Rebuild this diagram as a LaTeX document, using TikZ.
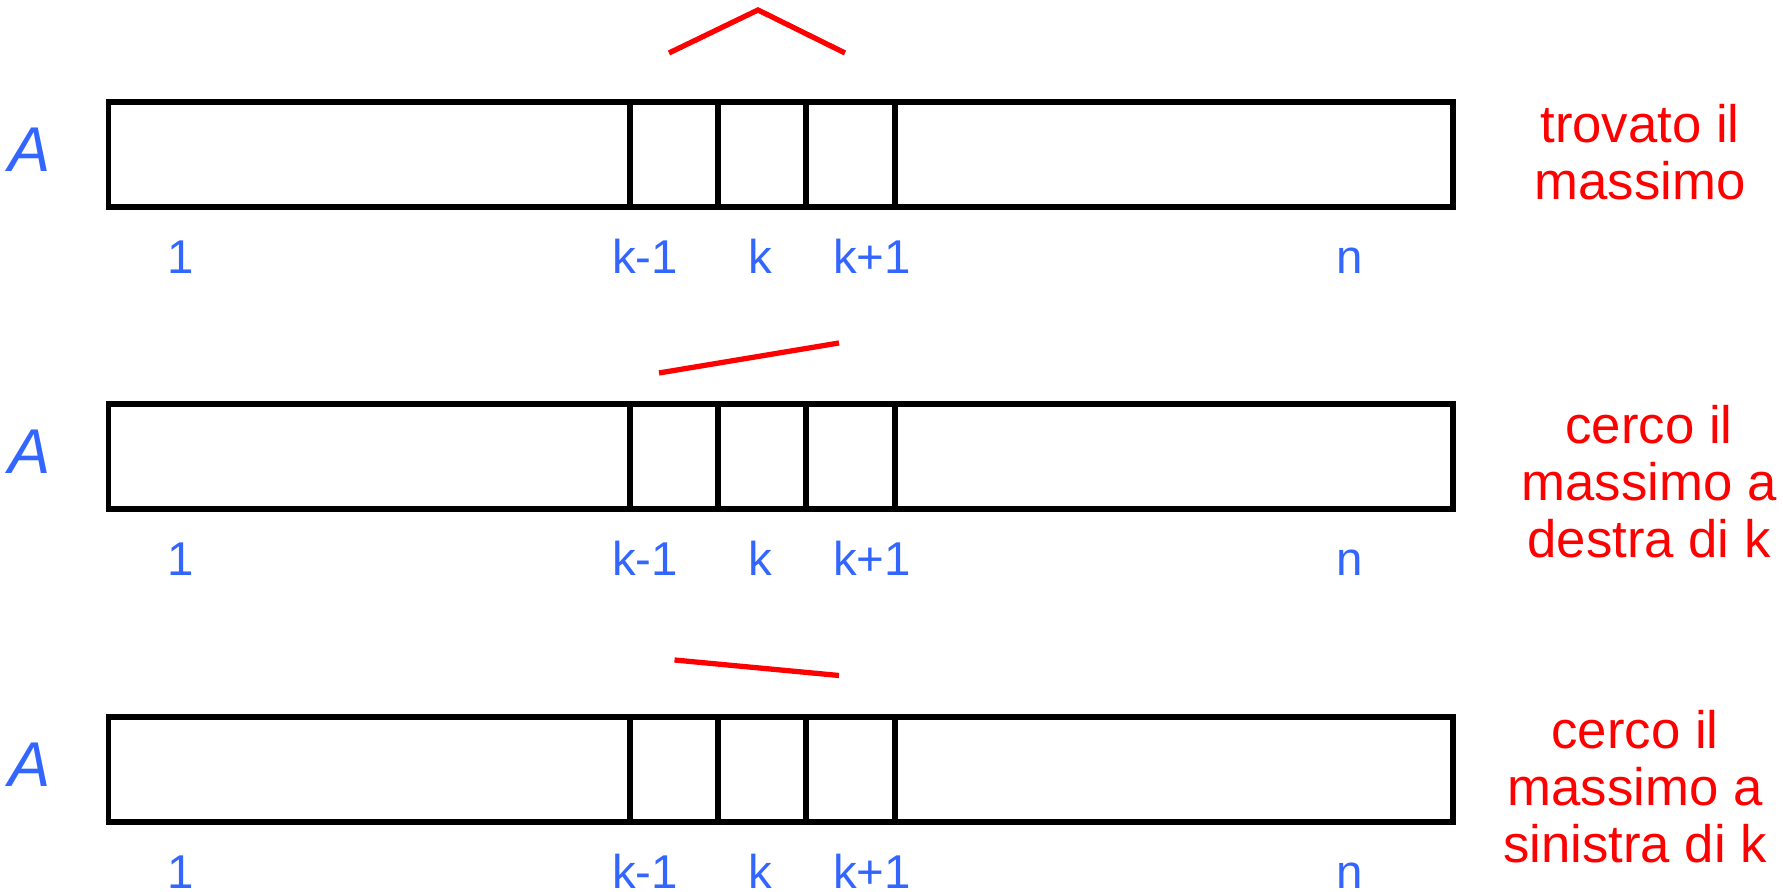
\documentclass[tikz,border=0pt]{standalone}
\usepackage{fontspec}
\setmainfont{Liberation Sans}
\definecolor{idxblue}{RGB}{51,102,255}

\begin{document}
\begin{tikzpicture}
		\tikzstyle {box line} = [line width=1.7pt]
		\tikzstyle {cell line} = [line width=1.7pt]
		\tikzstyle {trend line} = [red, line width=1.5pt]
		\tikzstyle {index} = [idxblue, font=\fontsize{13.5}{16}\selectfont, anchor=base, inner sep=0pt]
		\tikzstyle {note} = [red, font=\fontsize{15}{16.3}\selectfont, align=center, anchor=base, inner sep=0pt]

		\useasboundingbox (0,0) rectangle (17.83,8.92);

		\foreach \r/\yt in {1/7.90, 2/4.88, 3/1.75}
		{
			\pgfmathsetmacro{\yb}{\yt - 1.05}
			\pgfmathsetmacro{\yl}{\yb - 0.67}

			\draw[box line] (1.085,\yb) rectangle (14.53,\yt);

			\foreach \x in {6.30, 7.18, 8.06, 8.95}
			{
				\draw[cell line] (\x,\yb) -- (\x,\yt);
			}

			\node[idxblue, inner sep=0pt, font=\fontsize{18}{20}\selectfont\itshape] (arr\r) at (0.30,\yt-0.48) {A};

			\node[index] (first\r) at (1.81,\yl) {1};
			\node[index] (prev\r) at (6.45,\yl) {k-1};
			\node[index] (cur\r) at (7.60,\yl) {k};
			\node[index] (next\r) at (8.72,\yl) {k+1};
			\node[index] (last\r) at (13.50,\yl) {n};
		}

		% andamento dei valori intorno a k
		\draw[trend line] (6.69,8.39) -- (7.58,8.82) -- (8.45,8.39);
		\draw[trend line] (6.59,5.19) -- (8.39,5.49);
		\draw[trend line] (6.745,2.32) -- (8.39,2.165);

		\node[note] (found) at (16.40,6.92) {trovato il\\massimo};
		\node[note] (right) at (16.49,3.34) {cerco il\\massimo a\\destra di k};
		\node[note] (left) at (16.35,0.29) {cerco il\\massimo a\\sinistra di k};

	\end{tikzpicture}
\end{document}
